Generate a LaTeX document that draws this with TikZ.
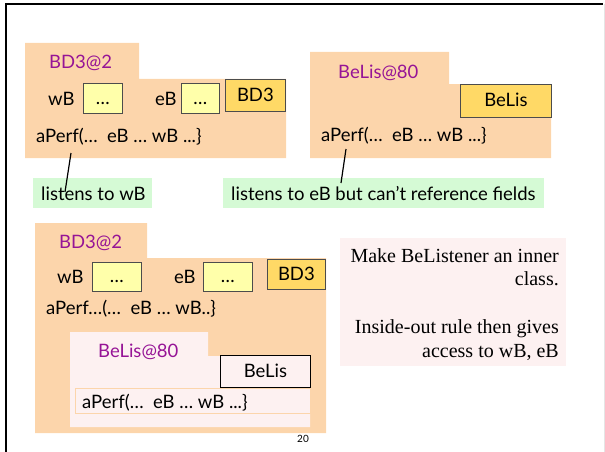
\documentclass[tikz,border=0pt]{standalone}
\usepackage{fontspec}
\setmainfont{Liberation Serif}
\newfontfamily\gill{Lato}
\definecolor{peach}{RGB}{252,213,171}
\definecolor{ylw}{RGB}{255,255,170}
\definecolor{gold}{RGB}{255,217,102}
\definecolor{mint}{RGB}{213,250,213}
\definecolor{blush}{RGB}{253,241,241}
\definecolor{plum}{RGB}{150,20,150}
\begin{document}
\begin{tikzpicture}[x=1pt,y=-1pt,
  lbl/.style={font=\gill\fontsize{18.5}{22}\selectfont, inner sep=0pt, anchor=base west},
  ttl/.style={lbl, text=plum},
  fld/.style={draw=black!70, fill=ylw, line width=0.8pt, anchor=north west, inner sep=0pt,
     font=\gill\fontsize{18.5}{22}\selectfont, text height=12pt, text depth=0pt},
  cls/.style={draw=black!70, fill=gold, line width=0.8pt, anchor=north west, inner sep=0pt,
     font=\gill\fontsize{18.5}{22}\selectfont, text height=12pt, text depth=0pt},
  note/.style={fill=mint, anchor=north west, inner sep=0pt},
  link/.style={line width=1.2pt},
  expl/.style={anchor=base east, inner sep=0pt, font=\fontsize{20}{24}\selectfont}]
\useasboundingbox (0,0) rectangle (605,452);
% frame
\draw[black!10, line width=1pt] (604,4) -- (604,452);
\draw[line width=2.2pt] (6,452) -- (6,4) -- (603,4);

% ---------- top left object
\fill[peach] (25,43) -- (139,43) -- (139,79) -- (286,79) -- (286,158) -- (25,158) -- cycle;
\node[ttl] (t1) at (49,69) {BD3@2};
\node[lbl] (w1) at (48,105) {wB};
\node[fld, minimum width=39pt, minimum height=30pt] (wb1) at (83,83) {…};
\node[lbl] (e1) at (155,105) {eB};
\node[fld, minimum width=38pt, minimum height=30pt] (eb1) at (181,83) {…};
\node[cls, minimum width=60pt, minimum height=32pt] (c1) at (225,79) {BD3};
\node[lbl] (a1) at (36,142) {aPerf(…\ \ eB … wB ...\}};
\coordinate (a1p) at (71,153);

% ---------- top right object
\fill[peach] (310,52) -- (449,52) -- (449,84) -- (551,84) -- (551,158) -- (310,158) -- cycle;
\node[ttl] (t2) at (338,78) {BeLis@80};
\node[cls, minimum width=91pt, minimum height=33pt] (c2) at (460,84) {BeLis};
\node[lbl] (a2) at (321,141) {aPerf(…\ \ eB … wB ...\}};
\coordinate (a2p) at (346,149);

% ---------- notes
\node[note, minimum width=119pt, minimum height=30pt] (n1) at (33,178) {};
\node[lbl] (n1t) at (41,200) {listens to wB};
\node[note, minimum width=321pt, minimum height=30pt] (n2) at (223,178) {};
\node[lbl] (n2t) at (231,200) {listens to eB but can’t reference fields};
\coordinate (n1p) at (65,192);
\coordinate (n2p) at (341,183);
\draw[link] (a1p) -- (n1p);
\draw[link] (a2p) -- (n2p);

% ---------- bottom object
\fill[peach] (35,223) -- (147,223) -- (147,258) -- (326,258) -- (326,433) -- (35,433) -- cycle;
\node[ttl] (t3) at (59,248) {BD3@2};
\node[lbl] (w3) at (57,283) {wB};
\node[fld, minimum width=49pt, minimum height=29pt] (wb3) at (92,262) {…};
\node[lbl] (e3) at (174,283) {eB};
\node[fld, minimum width=49pt, minimum height=29pt] (eb3) at (203,262) {…};
\node[cls, minimum width=58pt, minimum height=30pt] (c3) at (267,259) {BD3};
\node[lbl] (a3) at (46,314) {aPerf…(…\ \ eB … wB..\}};

\fill[blush] (70,332) -- (208,332) -- (208,356) -- (310,356) -- (310,427) -- (70,427) -- cycle;
\node[ttl] (t4) at (98,357) {BeLis@80};
\node[cls, fill=blush, draw=black, minimum width=90pt, minimum height=32pt] (c4) at (220,355) {BeLis};
\node[draw=peach, fill=blush, line width=0.8pt, anchor=north west, inner sep=0pt,
      minimum width=235pt, minimum height=25pt] (ib) at (75,388) {};
\node[lbl] (a4) at (82,408) {aPerf(…\ \ eB … wB ...\}};

\node[font=\gill\fontsize{10}{12}\selectfont, inner sep=0pt] (pg) at (303,439) {20};

% ---------- explanation
\node[fill=blush, anchor=north west, minimum width=226pt, minimum height=128pt, inner sep=0pt] (ex) at (340,238) {};
\node[expl] (x1) at (559,262) {Make BeListener an inner};
\node[expl] (x2) at (559,285) {class.};
\node[expl] (x3) at (559,333) {Inside-out rule then gives};
\node[expl] (x4) at (559,357) {access to wB, eB};
\end{tikzpicture}
\end{document}
